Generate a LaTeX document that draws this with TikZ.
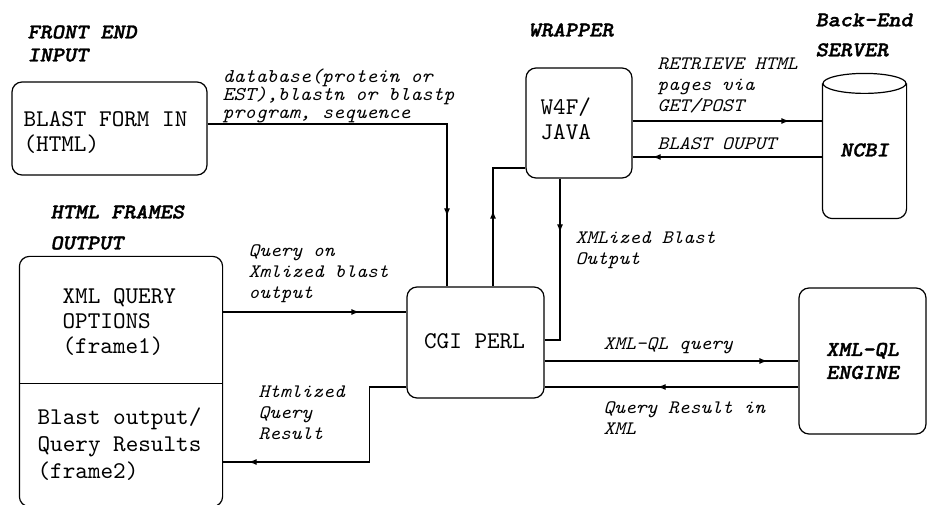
\documentclass[tikz,border=0pt]{standalone}
\usepackage{fontspec}
\usetikzlibrary{arrows.meta,decorations.markings}
\newfontfamily\boxfont{lmmono10-regular.otf}
\newfontfamily\lblfont[FakeStretch=1.08]{lmmono10-italic.otf}
\newfontfamily\headfont[FakeStretch=1.1,FakeBold=1.5]{lmmonolt10-boldoblique.otf}
\newcommand\boxtext{\boxfont\fontsize{24}{25}\selectfont}
\newcommand\lbltext{\lblfont\fontsize{19}{21}\selectfont}
\newcommand\headtext{\headfont\fontsize{21}{23}\selectfont}
\begin{document}
\begin{tikzpicture}[x=1pt,y=1pt,line width=1.2pt,
	box/.style={draw,rounded corners=10pt,inner sep=0pt},
	area/.style={inner sep=0pt},
	boxlbl/.style={font=\boxtext,align=left,anchor=west,inner sep=0pt},
	lbl/.style={font=\lbltext,align=left,anchor=west,inner sep=0pt},
	head/.style={font=\headtext,align=left,anchor=west,inner sep=0pt},
	flow/.style={postaction={decorate,decoration={markings,mark=at position -#1 with {\arrow{Latex[length=8pt,width=6pt]}}}}}]
	\useasboundingbox (0,0) rectangle (927,-505);
	\node[box,minimum width=195pt,minimum height=93pt] (blast) at (109.5,-128.5) {};
	\node[box,minimum width=106pt,minimum height=110pt] (w4f) at (579,-123) {};
	\node[box,minimum width=137pt,minimum height=111pt] (cgi) at (475.5,-342.5) {};
	\node[box,minimum width=127pt,minimum height=146pt] (xml) at (862.5,-361) {};
	\node[area,minimum width=83pt,minimum height=144pt] (ncbi) at (864.5,-146) {};
	\node[area,minimum width=202pt,minimum height=126pt] (frame1) at (121,-320) {};
	\node[area,minimum width=202pt,minimum height=123pt] (frame2) at (121,-444.5) {};
	\draw[rounded corners=10pt] (frame1.north west) rectangle (frame2.south east);
	\draw (frame1.south west) -- (frame1.south east);
	\draw ([yshift=-10pt]ncbi.north) ellipse [x radius=41.5, y radius=10];
	\draw[rounded corners=10pt] ([yshift=-10pt]ncbi.north west) -- (ncbi.south west) -- (ncbi.south east) -- ([yshift=-10pt]ncbi.north east);
	\node[boxlbl] (blasttxt) at (23,-132.5) {BLAST FORM IN\\(HTML)};
	\node[boxlbl] (w4ftxt) at (540,-119) {W4F/\\JAVA};
	\node[boxlbl] (cgitxt) at (423.5,-341) {CGI PERL};
	\node[boxlbl] (f1txt) at (62,-322) {XML QUERY\\OPTIONS\\(frame1)};
	\node[boxlbl] (f2txt) at (37,-444.5) {Blast output/\\[2pt]Query Results\\[2pt](frame2)};
	\node[head] (fehead) at (27,-43.5) {FRONT END\\INPUT};
	\node[head] (wraphead) at (528,-30) {WRAPPER};
	\node[head] (behead) at (815,-35) {Back-End\\[7pt]SERVER};
	\node[head] (hfhead) at (50,-227.5) {HTML FRAMES\\[8pt]OUTPUT};
	\node[head,anchor=center] (ncbitxt) at ([yshift=-4pt]ncbi.center) {NCBI};
	\node[head,anchor=center,align=center] (xmltxt) at (xml.center) {XML-QL\\ENGINE};
	\node[lbl,font=\lblfont\fontsize{19.5}{18}\selectfont] (dblbl) at (222,-96) {database(protein or\\EST),blastn or blastp\\program, sequence};
	\node[lbl] (getlbl) at (657,-85.5) {RETRIEVE HTML\\pages via\\GET/POST};
	\node[lbl] (outlbl) at (657,-144) {BLAST OUPUT};
	\node[lbl] (xmlzlbl) at (575,-250) {XMLized Blast\\Output};
	\node[lbl] (qonlbl) at (248,-274) {Query on\\Xmlized blast\\output};
	\node[lbl] (htmllbl) at (258,-412.5) {Htmlized\\Query\\Result};
	\node[lbl] (qllbl) at (603,-346) {XML-QL query};
	\node[lbl] (reslbl) at (603,-418) {Query Result in\\XML};
	\draw[flow=70pt] ([yshift=4.5pt]blast.east) -| ([xshift=-28.5pt]cgi.north);
	\draw[flow=75pt] ([xshift=17.5pt]cgi.north) |- ([yshift=-45pt]w4f.west);
	\draw[flow=123pt] ([xshift=-19pt]w4f.south) |- ([yshift=2.5pt]cgi.east);
	\coordinate (req) at ([yshift=2pt]w4f.east);
	\draw[flow=33pt] (req) -- (req -| ncbi.west);
	\coordinate (res) at ([yshift=-34pt]w4f.east);
	\draw[flow=20pt] (res -| ncbi.west) -- (res);
	\draw[flow=31pt] (cgi.east |- xml.west) -- (xml.west);
	\coordinate (qres) at ([yshift=-26pt]xml.west);
	\draw[flow=113pt] (qres) -- (qres -| cgi.east);
	\coordinate (qon) at ([yshift=8pt]frame1.east);
	\draw[flow=47pt] (qon) -- (qon -| cgi.west);
	\draw[flow=26pt] ([yshift=-44.5pt]cgi.west) -- ++(-37,0) |- ([yshift=-17.5pt]frame2.east);
\end{tikzpicture}
\end{document}
